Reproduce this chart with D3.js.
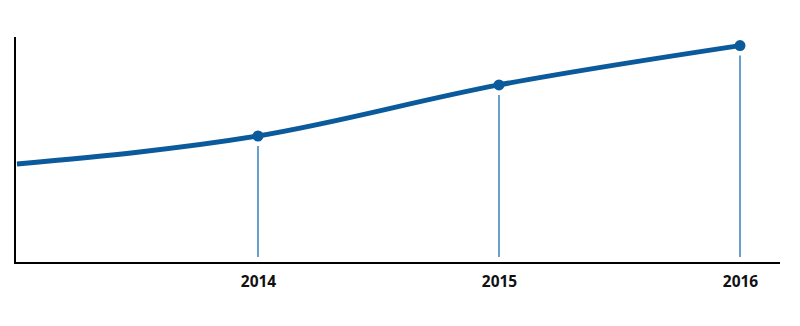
<!DOCTYPE html>
<html><head><meta charset="utf-8">
<script src="https://cdn.jsdelivr.net/npm/d3@7/dist/d3.min.js"></script>
<style>body{margin:0;background:#fff}svg{display:block}</style>
</head><body><svg id="c" width="800" height="326"></svg>
<script>
const years = [2013, 2014, 2015, 2016];
const values = [43.8, 56.2, 78.8, 96.2];
const tickYears = [2014, 2015, 2016];
const tickLabels = ["2014", "2015", "2016"];

const svg = d3.select("#c");
const x = d3.scaleLinear().domain([2013, 2016]).range([17, 740]);
const y = d3.scaleLinear().domain([0, 100]).range([263, 37]);
const data = years.map((yr, i) => ({yr, v: values[i]}));
const col = "#0b5a9c";

// drop lines
svg.selectAll("line.drop").data(data.filter(d => tickYears.includes(d.yr))).enter()
  .append("line").attr("class", "drop")
  .attr("x1", d => x(d.yr)).attr("x2", d => x(d.yr))
  .attr("y1", d => y(d.v) + 10).attr("y2", y(0) - 6)
  .attr("stroke", "#1a6cb0").attr("stroke-width", 1.3);

// axes
const xAxis = d3.axisBottom(x).tickValues(tickYears).tickFormat((d, i) => tickLabels[i]).tickSize(0).tickPadding(13);
const gx = svg.append("g").attr("transform", `translate(0,${y(0)})`).call(xAxis);
gx.select(".domain").attr("d", `M14,0H780`).attr("stroke", "#000").attr("stroke-width", 2);
gx.selectAll("text").attr("font-family", "'Open Sans', 'Liberation Sans', sans-serif")
  .attr("font-weight", "bold").attr("font-size", 15.5).attr("fill", "#111");

const yAxis = d3.axisLeft(y).tickValues([]).tickSize(0);
const gy = svg.append("g").attr("transform", `translate(15,0)`).call(yAxis);
gy.select(".domain").attr("d", `M0,${y(100)}V${y(0)+1}`).attr("stroke", "#000").attr("stroke-width", 2);

// line
const line = d3.line().x(d => x(d.yr)).y(d => y(d.v)).curve(d3.curveMonotoneX);
svg.append("path").datum(data).attr("d", line)
  .attr("fill", "none").attr("stroke", col).attr("stroke-width", 5).attr("stroke-linecap", "butt");

svg.selectAll("circle.pt").data(data.filter(d => tickYears.includes(d.yr))).enter()
  .append("circle").attr("class", "pt")
  .attr("cx", d => x(d.yr)).attr("cy", d => y(d.v)).attr("r", 5.5).attr("fill", col);
</script></body></html>
